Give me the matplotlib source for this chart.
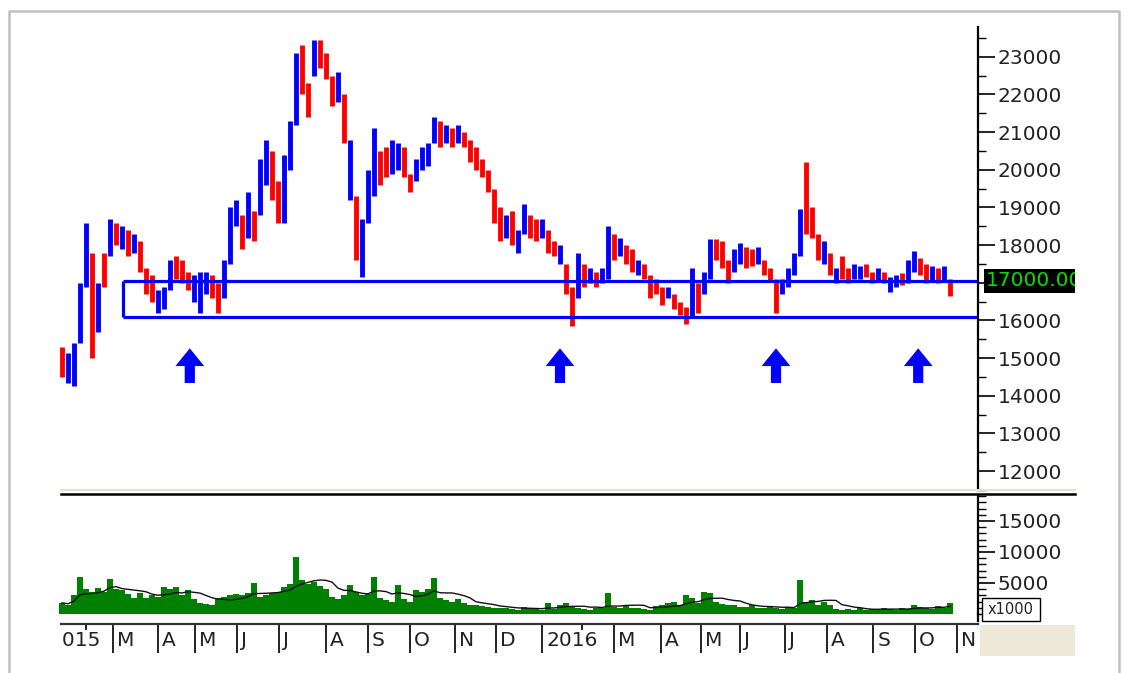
import matplotlib
matplotlib.use("Agg")
import matplotlib.pyplot as plt
import numpy as np
import pandas as pd
from matplotlib.patches import Rectangle, FancyArrow
from matplotlib.lines import Line2D
from matplotlib.transforms import Bbox, IdentityTransform, blended_transform_factory, offset_copy

# ---- data (one bar ~ 3 trading days) ----
lows = [14500, 14350, 14250, 15400, 16900, 15000, 15700, 16900, 17700, 18000,
        17900, 17700, 17800, 17300, 16700, 16500, 16200, 16300, 16800, 17100,
        17000, 16800, 16500, 16200, 16700, 16600, 16200, 16600, 17500, 18500,
        17900, 18200, 18100, 18800, 19600, 19200, 18600, 18600, 20000, 21200,
        22000, 21400, 22500, 22700, 22400, 21700, 21800, 20700, 19200, 17600,
        17150, 18600, 19300, 19600, 19800, 19900, 20000, 19800, 19400, 19700,
        20000, 20100, 20700, 20600, 20700, 20600, 20700, 20600, 20200, 20000,
        19800, 19400, 18600, 18100, 18200, 18000, 17800, 18300, 18200, 18100,
        18200, 17800, 17700, 17500, 16700, 15850, 16600, 16900, 17000, 16900,
        17000, 17100, 17600, 17700, 17500, 17300, 17200, 17100, 16600, 16700,
        16400, 16600, 16300, 16150, 15900, 16100, 16200, 16700, 17100, 17600,
        17400, 17000, 17300, 17500, 17400, 17450, 17500, 17200, 17050, 16200,
        16700, 16900, 17200, 17700, 18300, 18200, 17600, 17500, 17200, 17000,
        17100, 17000, 17100, 17100, 17150, 17000, 17050, 17000, 16750, 16900,
        16950, 17000, 17300, 17200, 17000, 17050, 17000, 17050, 16650]
highs = [15300, 15150, 15400, 17000, 18600, 17800, 17000, 17800, 18700, 18600,
         18500, 18400, 18300, 18100, 17400, 17200, 16800, 16900, 17600, 17700,
         17600, 17300, 17200, 17300, 17300, 17200, 17000, 17600, 19000, 19200,
         18800, 19400, 18900, 20300, 20800, 20500, 19700, 20400, 21300, 23100,
         23300, 22300, 23450, 23450, 23100, 22500, 22600, 22000, 20800, 19300,
         18700, 20000, 21100, 20500, 20600, 20800, 20700, 20600, 19900, 20300,
         20600, 20700, 21400, 21300, 21200, 21100, 21200, 21000, 20800, 20600,
         20300, 20000, 19500, 19000, 18800, 18900, 18400, 19100, 18800, 18700,
         18700, 18400, 18100, 18000, 17500, 16900, 17800, 17500, 17400, 17300,
         17400, 18500, 18300, 18200, 18000, 17900, 17600, 17500, 17200, 17100,
         16900, 16900, 16700, 16500, 16350, 17400, 17000, 17300, 18150, 18150,
         18100, 17600, 17900, 18050, 17950, 17900, 17950, 17600, 17400, 17100,
         17100, 17400, 17800, 18950, 20200, 19000, 18300, 18100, 17800, 17400,
         17700, 17400, 17500, 17450, 17500, 17300, 17400, 17300, 17150, 17200,
         17250, 17600, 17850, 17650, 17500, 17450, 17400, 17450, 17100]
updown = ("rbbbbrbrbr" "brbrrrbbbr" "rrbbbrrbbb" "rbrbbrrbbb" "rrbrrrbrbr"
          "bbbrrbbrrb" "bbbrbrbrrr" "rrrrbrbbrr" "brrbrrbrbr" "bbrbrrbrrr"
          "rbrrrbrbbr" "rrbbrrbrrr" "bbbbrrrbrb" "rrbbrrbrbb" "rbbrrbrbr")
volume = [1800, 1500, 3000, 6000, 4000, 3500, 4200, 3600, 5600, 4000,
          3800, 3200, 2600, 3400, 2500, 3000, 2700, 4300, 4000, 4300,
          3000, 3800, 2400, 1800, 1600, 1500, 2600, 2800, 3000, 3200,
          3000, 3400, 5000, 2800, 3000, 3400, 3600, 4400, 4800, 9200,
          5500, 4800, 5200, 4500, 4000, 2800, 2400, 3000, 4700, 3500,
          3000, 3300, 6000, 2600, 2200, 2000, 4700, 2400, 2000, 3800,
          3500, 4000, 5800, 2500, 2200, 2000, 2400, 1800, 1500, 1400,
          1300, 1200, 1000, 900, 1000, 800, 700, 1100, 900, 800,
          700, 1800, 800, 1500, 1800, 1200, 900, 800, 700, 900,
          1000, 3400, 1200, 1000, 1500, 900, 1000, 800, 700, 1300,
          1500, 1800, 1900, 1400, 3000, 2500, 1800, 3600, 3400, 2000,
          1600, 1500, 1400, 1200, 1100, 1500, 1000, 900, 1300, 1000,
          800, 1200, 1000, 5500, 2000, 2200, 1500, 1900, 1400, 800,
          700, 800, 700, 900, 700, 800, 700, 900, 800, 700,
          900, 800, 1500, 1200, 1000, 800, 1300, 1000, 1800]

month_pos = [-2.7, 8.5, 16, 22.2, 29.2, 36.2, 44, 51, 58, 65.5, 72.3,
             80, 92, 99.8, 106.5, 113, 120.5, 127.5, 135.2, 142.2, 149.2]
month_lab = ["2015", "M", "A", "M", "J", "J", "A", "S", "O", "N", "D",
             "2016", "M", "A", "M", "J", "J", "A", "S", "O", "N"]
feb_pos = [4.0, 86.7]

support_top = 17050
support_bot = 16080
box_start = 10.2
arrow_pos = [21.3, 83, 119, 142.7]
last_label = "17000.00"

# ---- layout ----
W, H = 1125, 673
fig = plt.figure(figsize=(W / 100, H / 100), dpi=100)
fig.patch.set_facecolor("white")


def place(l, t, r, b):
    return [l / W, 1 - b / H, (r - l) / W, (b - t) / H]


L, R = 59, 978
xlim = (-0.5, (R - L) / 6 - 0.5)
x = np.arange(len(lows))
FS = 14.5
TXT = "#222222"

ax = fig.add_axes(place(L, 27, R, 490))
av = fig.add_axes(place(L, 496, R, 614))
ad = fig.add_axes(place(62, 624, R, 656))

for a in (ax, av):
    a.set_xlim(*xlim)
    for s in ("left", "top", "bottom"):
        a.spines[s].set_visible(False)
    a.spines["right"].set_linewidth(1.6)
    a.yaxis.tick_right()
    a.set_xticks([])
    a.tick_params(axis="y", which="major", length=12, width=1.2, pad=2,
                  labelsize=FS, labelcolor=TXT)
    a.tick_params(axis="y", which="minor", length=5.5, width=1.0)

# price bars
cols = ["#ff0000" if c == "r" else "#0000ff" for c in updown]
ax.vlines(x, lows, highs, colors=cols, linewidth=3.5)
ax.set_ylim(11578, 23791)
pticks = np.arange(12000, 23001, 1000)
ax.set_yticks(pticks)
# the 17000 label sits under the last-price box, as in the source
ax.set_yticklabels(["" if v == 17000 else str(v) for v in pticks])
ax.set_yticks(np.arange(11500, 24000, 500), minor=True)

# support box and arrows
ax.hlines([support_top, support_bot], box_start, xlim[1], colors="#0000ff", linewidth=2.3)
ax.vlines(box_start, support_bot, support_top, colors="#0000ff", linewidth=2.3)
for p in arrow_pos:
    ax.add_patch(FancyArrow(p, 14340, 0, 920, width=1.7, head_width=4.8,
                            head_length=470, length_includes_head=True,
                            color="#0000ff", lw=0))

# clipped top label and last-price label on the right
clip = Bbox.from_extents(0, 0, 1075, H - 27)
tr = blended_transform_factory(IdentityTransform(), ax.transData)
t = ax.text(1000, 24000, "24000", transform=tr, fontsize=FS, color=TXT,
            va="center", ha="left", clip_on=True)
t.set_clip_box(clip)
t.set_clip_path(None)
rect = Rectangle((984, support_top - 320), 120, 640, transform=tr,
                 facecolor="black", edgecolor="none", clip_on=True)
ax.add_artist(rect)
rect.set_clip_box(clip)
rect.set_clip_path(None)
t2 = ax.text(986, support_top, last_label, transform=tr, fontsize=FS,
             color="#00e000", va="center", ha="left", clip_on=True)
t2.set_clip_box(clip)
t2.set_clip_path(None)

# volume
av.bar(x, volume, width=1.0, color="#008000", linewidth=0)
ma = pd.Series(volume).rolling(7, min_periods=1).mean()
av.plot(x, ma, color="#111111", linewidth=1.0)
av.set_ylim(0, 19032)
av.set_yticks([5000, 10000, 15000])
av.set_yticks(np.arange(0, 19001, 1000), minor=True)
fig.add_artist(Rectangle((982 / W, 1 - 621 / H), 58 / W, 23 / H,
                         transform=fig.transFigure, facecolor="white",
                         edgecolor="black", linewidth=1.0))
fig.text(1011 / W, 1 - 609.5 / H, "x1000", fontsize=10.5, color=TXT,
         ha="center", va="center")

# date axis
ad.set_xlim(0, xlim[1])
ad.set_ylim(0, 1)
ad.axis("off")
ad.vlines(month_pos, 0.09, 1, colors="#111111", linewidth=1.3)
ad.vlines(feb_pos, 0.82, 1, colors="#111111", linewidth=1.3)
lab_tr = offset_copy(ad.transData, fig=fig, x=4, y=0, units="dots")
for p, s in zip(month_pos, month_lab):
    ad.text(p, 0.47, s, transform=lab_tr, fontsize=FS, color=TXT,
            ha="left", va="center", clip_on=True)

# frame pieces
def fline(xs, ys, **kw):
    fig.add_artist(Line2D([v / W for v in xs], [1 - v / H for v in ys],
                          transform=fig.transFigure, **kw))


fline([8.5, 8.5, 1119, 1119], [673, 11, 11, 673], color="#c0c0c0", linewidth=1.8)
fline([61, 1075], [489.5, 489.5], color="#e4e1d2", linewidth=1.5)
fline([61, 1075], [493.5, 493.5], color="black", linewidth=1.8)
fline([61, 978], [624, 624], color="#333333", linewidth=1.6)
fline([978, 978], [614, 621], color="black", linewidth=1.6)
fig.add_artist(Rectangle((980 / W, 1 - 656 / H), 95 / W, 31 / H,
                         transform=fig.transFigure, facecolor="#ece9d8",
                         edgecolor="none"))

fig.savefig("out.png", dpi=100)
